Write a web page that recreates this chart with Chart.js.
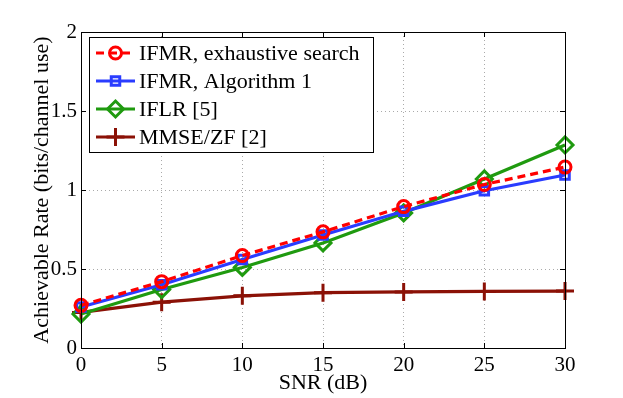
<!DOCTYPE html>
<html>
<head>
<meta charset="utf-8">
<script src="https://cdn.jsdelivr.net/npm/chart.js@4.4.1/dist/chart.umd.min.js"></script>
<style>
html,body{margin:0;padding:0;background:#fff}
#wrap{width:623px;height:398px;position:relative}
</style>
</head>
<body>
<div id="wrap"><canvas id="rateChart"></canvas></div>
<script>
// values
const snr = [0, 5, 10, 15, 20, 25, 30]
const ifmrExhaustive = [0.27, 0.42, 0.585, 0.735, 0.895, 1.035, 1.145]
const ifmrAlg1 = [0.26, 0.40, 0.56, 0.715, 0.865, 0.995, 1.095]
const iflr = [0.215, 0.37, 0.51, 0.665, 0.855, 1.07, 1.285]
const mmseZf = [0.225, 0.29, 0.33, 0.35, 0.355, 0.358, 0.36]
const yTicks = [0, 0.5, 1, 1.5, 2]

const serif = "'Liberation Serif', 'DejaVu Serif', serif"

const datasets = [
{
label:"IFMR, exhaustive search",
data:ifmrExhaustive,
borderColor:"#ff0000",
borderDash:[8,5],
pointStyle:"circle",
pointRadius:6
},
{
label:"IFMR, Algorithm 1",
data:ifmrAlg1,
borderColor:"#2a3cff",
pointStyle:"rect",
pointRadius:6
},
{
label:"IFLR [5]",
data:iflr,
borderColor:"#1f9a0f",
pointStyle:"rectRot",
pointRadius:8
},
{
label:"MMSE/ZF [2]",
data:mmseZf,
borderColor:"#8b1106",
pointStyle:"cross",
pointRadius:9
}
].map(d=>({
...d,
data:d.data.map((v,i)=>({x:snr[i],y:v})),
borderWidth:3.2,
pointBorderWidth:3,
pointBackgroundColor:"rgba(0,0,0,0)",
pointBorderColor:d.borderColor,
backgroundColor:d.borderColor,
tension:0,
fill:false,
clip:false
}))

// box, inward ticks and the legend panel, like the matlab figure
const frameAndLegend = {
id:"frameAndLegend",
afterDatasetsDraw(chart){
const {ctx, chartArea:a, scales} = chart
ctx.save()
ctx.strokeStyle = "#000"
ctx.lineWidth = 1
ctx.strokeRect(a.left+0.5, a.top+0.5, a.right-a.left, a.bottom-a.top)
ctx.beginPath()
snr.forEach(v=>{
const x = Math.round(scales.x.getPixelForValue(v))+0.5
ctx.moveTo(x, a.bottom); ctx.lineTo(x, a.bottom-5)
ctx.moveTo(x, a.top); ctx.lineTo(x, a.top+5)
})
yTicks.forEach(v=>{
const y = Math.round(scales.y.getPixelForValue(v))+0.5
ctx.moveTo(a.left, y); ctx.lineTo(a.left+5, y)
ctx.moveTo(a.right, y); ctx.lineTo(a.right-5, y)
})
ctx.stroke()

// legend
const lx = 89, ly = 37, lw = 284, lh = 115
ctx.fillStyle = "#fff"
ctx.fillRect(lx, ly, lw, lh)
ctx.strokeRect(lx+0.5, ly+0.5, lw, lh)
ctx.font = "22px " + serif
ctx.textBaseline = "middle"
const rows = [53, 81, 109, 137]
chart.data.datasets.forEach((ds,i)=>{
const y = rows[i]
ctx.strokeStyle = ds.borderColor
ctx.lineWidth = ds.borderWidth
ctx.setLineDash(ds.borderDash || [])
ctx.beginPath()
ctx.moveTo(96, y); ctx.lineTo(135, y)
ctx.stroke()
ctx.setLineDash([])
ctx.lineWidth = ds.pointBorderWidth
ctx.fillStyle = "rgba(0,0,0,0)"
Chart.helpers.drawPoint(ctx, {pointStyle:ds.pointStyle, radius:ds.pointRadius, borderWidth:ds.pointBorderWidth}, 115.5, y)
ctx.fillStyle = "#000"
ctx.fillText(ds.label, 139, y+1)
})
ctx.restore()
}
}

new Chart(document.getElementById("rateChart"),{
type:"line",
data:{datasets:datasets},
plugins:[frameAndLegend],
options:{
responsive:true,
maintainAspectRatio:false,
animation:false,
layout:{padding:{top:32,right:58,left:0,bottom:0}},
plugins:{
legend:{display:false},
tooltip:{enabled:false}
},
scales:{
x:{
type:"linear",
min:0,max:30,
afterBuildTicks:s=>{s.ticks = snr.map(v=>({value:v}))},
afterFit:s=>{s.height = 50},
ticks:{color:"#000",font:{family:serif,size:21},padding:5,maxRotation:0,callback:v=>String(v)},
grid:{color:"#aaa",lineWidth:1,drawTicks:false},
border:{display:false,dash:[1,3]},
title:{display:true,text:"SNR (dB)",color:"#000",font:{family:serif,size:22},padding:{top:0,bottom:2}}
},
y:{
min:0,max:2,
afterBuildTicks:s=>{s.ticks = yTicks.map(v=>({value:v}))},
afterFit:s=>{s.width = 81},
ticks:{color:"#000",font:{family:serif,size:21},padding:4,callback:v=>String(v)},
grid:{color:"#aaa",lineWidth:1,drawTicks:false},
border:{display:false,dash:[1,3]},
title:{display:true,text:"Achievable Rate (bits/channel use)",color:"#000",font:{family:serif,size:22},padding:{top:29,bottom:0}}
}
}
}
})
</script>
</body>
</html>
